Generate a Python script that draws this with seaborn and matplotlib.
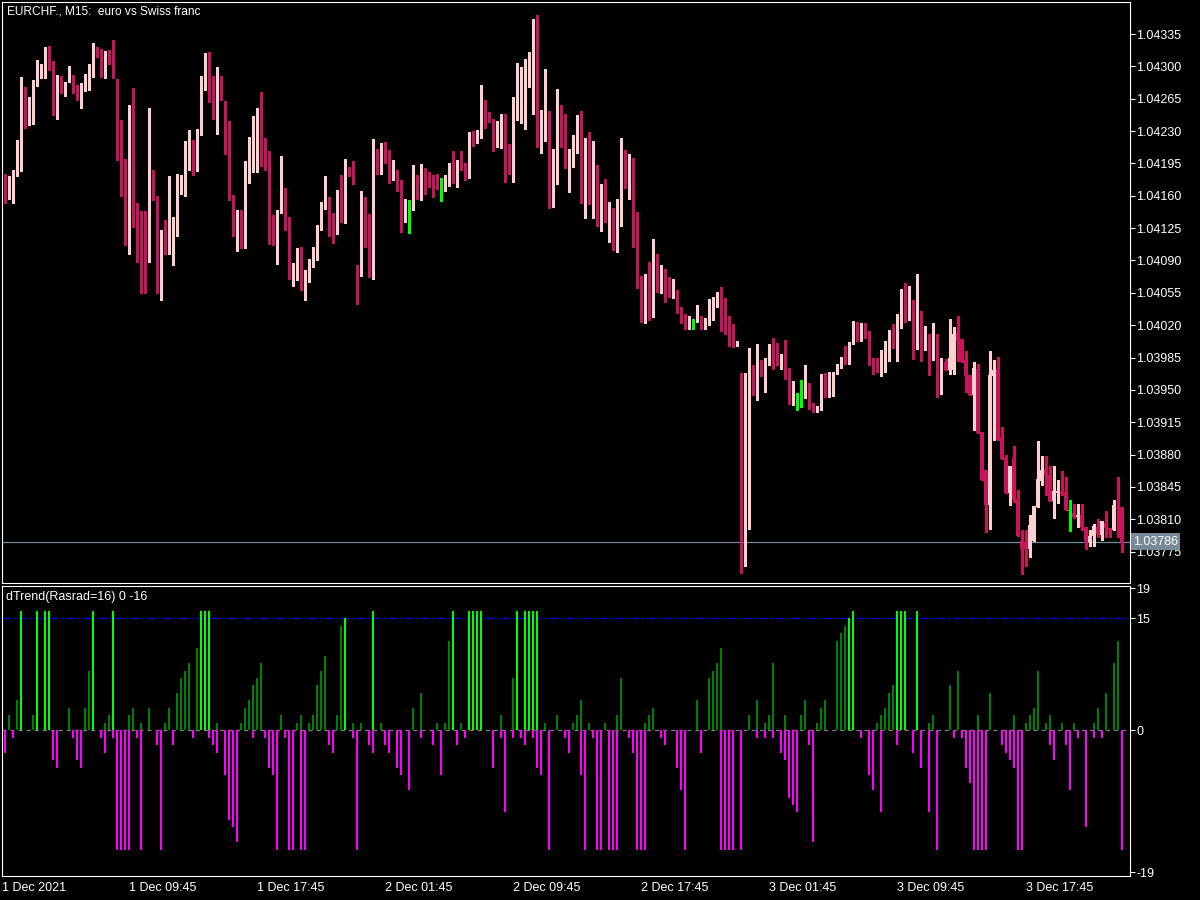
import numpy as np
import pandas as pd
import seaborn as sns
import matplotlib
matplotlib.use("Agg")
import matplotlib.pyplot as plt
import matplotlib.transforms as mtransforms

# ------------------- DATA -------------------

# EURCHF M15 candles, prices in points (1.04181 -> 104181), bar 0 = 1 Dec 2021 02:00
open_pts = [
    104181, 104165, 104171, 104187, 104211, 104276, 104243, 104258, 104283, 104295,
    104295, 104319, 104300, 104256, 104288, 104274, 104286, 104288, 104275, 104273,
    104277, 104287, 104301, 104317, 104314, 104296, 104312, 104306, 104286, 104224,
    104165, 104127, 104236, 104138, 104101, 104094, 104090, 104175, 104157, 104064,
    104120, 104105, 104109, 104134, 104175, 104174, 104200, 104213, 104191, 104227,
    104285, 104314, 104282, 104245, 104284, 104263, 104210, 104159, 104121, 104126,
    104119, 104182, 104196, 104217, 104234, 104214, 104202, 104133, 104117, 104144,
    104159, 104133, 104079, 104087, 104099, 104061, 104069, 104089, 104097, 104125,
    104151, 104157, 104130, 104127, 104140, 104132, 104189, 104187, 104082, 104073,
    104130, 104107, 104070, 104206, 104192, 104209, 104202, 104182, 104185, 104170,
    104132, 104148, 104148, 104183, 104171, 104179, 104179, 104176, 104176, 104169,
    104169, 104177, 104190, 104174, 104196, 104193, 104181, 104220, 104218, 104226,
    104256, 104247, 104243, 104213, 104233, 104246, 104191, 104184, 104254, 104260,
    104265, 104301, 104305, 104350, 104219, 104228, 104233, 104182, 104206, 104245,
    104216, 104195, 104210, 104211, 104228, 104157, 104222, 104170, 104191, 104127,
    104144, 104138, 104141, 104118, 104131, 104207, 104182, 104190, 104113, 104061,
    104040, 104061, 104030, 104084, 104059, 104077, 104056, 104053, 104056, 104037,
    104032, 104016, 104025, 104025, 104030, 104018, 104022, 104026, 104044, 104052,
    104030, 104030, 104004, 103997, 103802, 103761, 103939, 103966, 103939, 103980,
    103969, 103984, 103986, 103987, 103980, 103982, 103971, 103935, 103943, 103943,
    103942, 103958, 103934, 103926, 103929, 103966, 103942, 103953, 103968, 103975,
    103985, 103978, 104000, 104024, 104007, 104009, 104010, 103979, 103978, 103975,
    103983, 103989, 104011, 103995, 104017, 104049, 104027, 104044, 103996, 104035,
    104003, 104011, 103994, 104011, 103956, 103980, 103972, 103972, 104012, 104005,
    103982, 103966, 103945, 103973, 103904, 103863, 103825, 103965, 103973, 103899,
    103876, 103838, 103876, 103832, 103787, 103785, 103778, 103787, 103823, 103852,
    103864, 103858, 103830, 103839, 103840, 103840, 103819, 103817, 103813, 103815,
    103802, 103786, 103792, 103802, 103793, 103806, 103801, 103798, 103824, 103823,
]
high_pts = [
    104184, 104181, 104188, 104220, 104288, 104278, 104267, 104285, 104307, 104303,
    104321, 104322, 104306, 104291, 104290, 104283, 104300, 104291, 104280, 104282,
    104292, 104303, 104325, 104321, 104319, 104317, 104318, 104329, 104286, 104242,
    104200, 104258, 104277, 104152, 104144, 104144, 104255, 104188, 104160, 104123,
    104134, 104181, 104137, 104184, 104183, 104219, 104231, 104220, 104232, 104290,
    104314, 104315, 104290, 104299, 104290, 104263, 104241, 104161, 104145, 104145,
    104198, 104224, 104246, 104255, 104272, 104222, 104208, 104139, 104145, 104203,
    104168, 104137, 104087, 104104, 104105, 104080, 104092, 104105, 104128, 104153,
    104181, 104159, 104141, 104166, 104182, 104200, 104191, 104198, 104085, 104165,
    104159, 104140, 104221, 104211, 104217, 104218, 104209, 104199, 104188, 104177,
    104156, 104155, 104193, 104183, 104194, 104190, 104186, 104183, 104184, 104179,
    104182, 104196, 104208, 104199, 104208, 104196, 104229, 104230, 104231, 104280,
    104264, 104251, 104243, 104241, 104249, 104249, 104216, 104267, 104304, 104299,
    104308, 104316, 104351, 104356, 104253, 104297, 104252, 104211, 104275, 104258,
    104249, 104211, 104226, 104247, 104252, 104223, 104229, 104219, 104193, 104173,
    104178, 104153, 104147, 104156, 104222, 104209, 104205, 104201, 104142, 104073,
    104075, 104088, 104113, 104097, 104085, 104081, 104072, 104070, 104058, 104040,
    104032, 104030, 104027, 104042, 104030, 104028, 104048, 104051, 104056, 104061,
    104049, 104030, 104021, 104003, 103968, 103968, 103995, 103977, 104000, 103982,
    103984, 104000, 104006, 104001, 103989, 104004, 103974, 103960, 103947, 103961,
    103977, 103958, 103936, 103933, 103967, 103968, 103969, 103969, 103978, 103986,
    103998, 104002, 104025, 104024, 104022, 104022, 104014, 103985, 103985, 103993,
    104003, 104015, 104021, 104032, 104059, 104066, 104062, 104047, 104075, 104035,
    104019, 104011, 104022, 104011, 103984, 103983, 104027, 104018, 104030, 104005,
    103992, 103966, 103980, 103978, 103904, 103863, 103992, 103982, 103986, 103910,
    103880, 103868, 103889, 103842, 103798, 103798, 103815, 103824, 103895, 103878,
    103878, 103868, 103868, 103853, 103862, 103856, 103831, 103827, 103827, 103827,
    103802, 103798, 103805, 103810, 103808, 103819, 103801, 103831, 103856, 103823,
]
low_pts = [
    104152, 104157, 104152, 104181, 104187, 104233, 104237, 104238, 104279, 104287,
    104287, 104296, 104247, 104243, 104271, 104268, 104283, 104271, 104264, 104255,
    104273, 104274, 104289, 104310, 104289, 104287, 104303, 104287, 104199, 104160,
    104107, 104097, 104126, 104088, 104055, 104055, 104088, 104155, 104055, 104047,
    104097, 104097, 104085, 104116, 104162, 104160, 104188, 104183, 104187, 104226,
    104274, 104261, 104243, 104227, 104264, 104205, 104155, 104117, 104100, 104103,
    104104, 104174, 104186, 104186, 104192, 104188, 104108, 104107, 104086, 104141,
    104123, 104070, 104062, 104069, 104058, 104047, 104067, 104083, 104090, 104123,
    104146, 104116, 104109, 104119, 104132, 104131, 104181, 104173, 104043, 104073,
    104105, 104072, 104070, 104184, 104184, 104195, 104174, 104177, 104165, 104121,
    104132, 104120, 104145, 104156, 104155, 104162, 104169, 104159, 104167, 104154,
    104165, 104171, 104174, 104170, 104188, 104177, 104179, 104214, 104217, 104223,
    104233, 104240, 104208, 104213, 104212, 104175, 104184, 104175, 104242, 104239,
    104232, 104278, 104249, 104213, 104206, 104219, 104147, 104148, 104173, 104213,
    104190, 104164, 104191, 104206, 104152, 104136, 104151, 104136, 104127, 104122,
    104132, 104110, 104101, 104099, 104127, 104168, 104156, 104105, 104060, 104024,
    104022, 104026, 104029, 104056, 104055, 104045, 104051, 104049, 104033, 104022,
    104016, 104016, 104016, 104024, 104016, 104016, 104020, 104026, 104040, 104014,
    104010, 103998, 103996, 103997, 103752, 103759, 103799, 103945, 103939, 103965,
    103948, 103977, 103973, 103977, 103973, 103962, 103935, 103934, 103928, 103931,
    103941, 103929, 103926, 103926, 103928, 103942, 103942, 103943, 103967, 103974,
    103978, 103978, 104000, 104003, 104003, 104006, 103977, 103967, 103969, 103965,
    103969, 103981, 103995, 103981, 104017, 104024, 104026, 103983, 103994, 103981,
    103993, 103966, 103982, 103942, 103946, 103971, 103967, 103967, 103981, 103980,
    103948, 103944, 103907, 103903, 103853, 103796, 103800, 103896, 103896, 103875,
    103838, 103825, 103829, 103792, 103751, 103760, 103769, 103787, 103823, 103847,
    103836, 103830, 103811, 103828, 103836, 103820, 103797, 103811, 103802, 103798,
    103778, 103781, 103781, 103791, 103788, 103791, 103791, 103798, 103791, 103775,
]
close_pts = [
    104165, 104171, 104182, 104213, 104277, 104246, 104259, 104283, 104300, 104298,
    104321, 104297, 104257, 104287, 104274, 104281, 104288, 104274, 104273, 104277,
    104291, 104301, 104317, 104314, 104295, 104312, 104304, 104287, 104222, 104164,
    104128, 104234, 104138, 104100, 104094, 104092, 104171, 104157, 104064, 104120,
    104104, 104109, 104134, 104174, 104177, 104199, 104215, 104191, 104227, 104286,
    104314, 104271, 104247, 104282, 104264, 104209, 104157, 104121, 104126, 104122,
    104182, 104197, 104216, 104232, 104214, 104202, 104132, 104117, 104144, 104159,
    104131, 104079, 104081, 104100, 104061, 104069, 104089, 104097, 104127, 104149,
    104157, 104126, 104116, 104141, 104135, 104190, 104186, 104173, 104071, 104099,
    104112, 104101, 104204, 104192, 104208, 104201, 104181, 104188, 104170, 104132,
    104150, 104148, 104182, 104170, 104178, 104177, 104170, 104174, 104167, 104169,
    104179, 104190, 104174, 104196, 104192, 104181, 104220, 104218, 104226, 104258,
    104247, 104241, 104213, 104238, 104246, 104190, 104184, 104255, 104265, 104267,
    104304, 104305, 104350, 104219, 104227, 104233, 104184, 104209, 104244, 104213,
    104195, 104210, 104212, 104232, 104161, 104222, 104169, 104190, 104129, 104144,
    104139, 104140, 104120, 104132, 104207, 104182, 104189, 104111, 104060, 104042,
    104061, 104030, 104084, 104058, 104078, 104056, 104052, 104056, 104038, 104030,
    104016, 104025, 104025, 104032, 104018, 104022, 104027, 104045, 104052, 104030,
    104026, 104003, 103997, 103999, 103764, 103904, 103978, 103947, 103981, 103969,
    103982, 103986, 103984, 103981, 103983, 103970, 103936, 103944, 103943, 103943,
    103958, 103934, 103926, 103929, 103965, 103942, 103956, 103969, 103977, 103984,
    103978, 104000, 104024, 104007, 104010, 104007, 103979, 103974, 103976, 103985,
    103991, 104011, 103995, 104028, 104051, 104025, 104045, 103996, 104035, 103995,
    104011, 103998, 104012, 103957, 103978, 103971, 103985, 104011, 104003, 103980,
    103965, 103945, 103974, 103903, 103853, 103825, 103966, 103972, 103896, 103875,
    103838, 103868, 103831, 103792, 103778, 103778, 103804, 103824, 103854, 103863,
    103858, 103830, 103841, 103841, 103837, 103820, 103819, 103812, 103815, 103802,
    103787, 103792, 103803, 103794, 103808, 103801, 103798, 103825, 103823, 103786,
]

# dTrend(Rasrad=16): up buffer and down buffer per bar
trend_up = [
    0, 2, 0, 4, 16, 0, 0, 2, 16, 0,
    16, 16, 0, 0, 0, 0, 3, 0, 0, 0,
    3, 8, 16, 0, 0, 1, 2, 16, 0, 0,
    0, 2, 3, 0, 1, 0, 3, 0, 0, 0,
    1, 3, 0, 5, 7, 8, 9, 0, 11, 16,
    16, 16, 0, 1, 0, 0, 0, 0, 0, 1,
    3, 4, 6, 7, 9, 0, 0, 0, 0, 2,
    0, 0, 0, 1, 2, 0, 1, 2, 6, 8,
    10, 0, 0, 2, 14, 15, 0, 1, 0, 1,
    0, 0, 16, 0, 1, 0, 0, 0, 0, 0,
    0, 0, 3, 0, 5, 0, 0, 0, 1, 0,
    1, 12, 16, 0, 1, 0, 16, 16, 16, 16,
    0, 0, 0, 0, 2, 0, 0, 7, 16, 0,
    16, 16, 16, 16, 0, 1, 0, 0, 2, 0,
    0, 0, 1, 2, 4, 0, 1, 0, 0, 0,
    1, 0, 0, 2, 7, 0, 0, 0, 0, 0,
    1, 2, 3, 0, 0, 0, 0, 0, 0, 0,
    0, 0, 0, 4, 0, 0, 7, 8, 9, 11,
    0, 0, 0, 0, 0, 0, 2, 0, 4, 0,
    1, 2, 9, 0, 0, 2, 0, 0, 0, 2,
    4, 0, 0, 1, 3, 4, 0, 0, 12, 13,
    14, 15, 16, 0, 0, 0, 0, 0, 1, 2,
    3, 5, 6, 16, 16, 16, 0, 0, 16, 0,
    0, 1, 2, 0, 0, 0, 6, 0, 8, 0,
    0, 0, 0, 2, 0, 0, 5, 0, 0, 0,
    0, 0, 2, 0, 0, 1, 2, 3, 8, 0,
    1, 2, 0, 0, 1, 0, 0, 1, 0, 0,
    0, 0, 1, 3, 0, 5, 0, 9, 12, 0,
]
trend_down = [
    -3, 0, -1, 0, 0, 0, 0, 0, 0, 0,
    0, 0, -4, -5, 0, 0, 0, -1, -4, -5,
    0, 0, 0, 0, -1, -3, 0, -1, -16, -16,
    -16, -16, 0, -1, -16, 0, 0, 0, -2, -16,
    0, 0, -2, 0, 0, 0, 0, -1, 0, 0,
    0, -1, -2, -3, 0, -6, -12, -13, -15, 0,
    0, 0, -1, 0, 0, -1, -5, -6, -16, 0,
    -1, -16, -16, 0, -16, -16, 0, 0, 0, 0,
    0, -2, -3, 0, 0, 0, 0, -1, -16, 0,
    0, -2, -3, 0, 0, -2, -3, 0, -5, -6,
    0, -8, 0, 0, -1, 0, 0, -2, 0, -6,
    0, 0, 0, -2, 0, -1, 0, 0, 0, 0,
    0, 0, -5, 0, -1, -11, 0, -1, 0, -1,
    -2, 0, -1, -5, -6, 0, -16, 0, 0, 0,
    -1, -3, 0, 0, -6, -16, 0, -1, -16, -16,
    0, -16, -16, -16, 0, 0, -1, -3, -16, -16,
    -16, 0, 0, 0, -1, -2, 0, 0, -5, -8,
    -16, 0, 0, 0, -3, 0, 0, 0, 0, -16,
    -16, -16, -16, 0, -16, 0, 0, 0, -1, 0,
    -1, 0, -1, 0, -3, -4, -9, -10, -11, 0,
    0, -2, -15, 0, 0, 0, 0, 0, 0, 0,
    0, 0, 0, 0, -1, 0, -6, -8, 0, -11,
    0, 0, 0, -2, 0, 0, 0, -3, 0, -5,
    0, -11, 0, -16, 0, 0, 0, -1, 0, -1,
    -5, -7, -16, -16, -16, -16, 0, 0, 0, -2,
    -3, -4, -5, -16, -16, 0, 0, 0, 0, 0,
    0, -2, -4, 0, 0, -2, -8, 0, -1, 0,
    -13, 0, -1, 0, -1, 0, 0, 0, 0, -16,
]

price_ticks = [1.04335, 1.04300, 1.04265, 1.04230, 1.04195, 1.04160, 1.04125,
               1.04090, 1.04055, 1.04020, 1.03985, 1.03950, 1.03915, 1.03880,
               1.03845, 1.03810, 1.03775]
level_ticks = [19, 15, 0, -19]
time_ticks = [0, 31, 63, 95, 127, 159, 191, 223, 255]
time_labels = ["1 Dec 2021", "1 Dec 09:45", "1 Dec 17:45", "2 Dec 01:45", "2 Dec 09:45",
               "2 Dec 17:45", "3 Dec 01:45", "3 Dec 09:45", "3 Dec 17:45"]
last_price = 1.03786

# ------------------- STYLE -------------------

sns.set_theme(style="dark", rc={
    "axes.facecolor": "black",
    "figure.facecolor": "black",
    "axes.edgecolor": "white",
    "text.color": "white",
    "xtick.color": "white",
    "ytick.color": "white",
    "axes.grid": False,
})
plt.rcParams["font.family"] = ["Liberation Sans", "DejaVu Sans"]
plt.rcParams["lines.scale_dashes"] = False

bull_col = "#FFD0D0"
bear_col = "#C8145A"
doji_col = "#00FF00"

o = np.array(open_pts) / 1e5
h = np.array(high_pts) / 1e5
l = np.array(low_pts) / 1e5
c = np.array(close_pts) / 1e5
bars = np.arange(len(o))
x_lo, x_hi = -0.675, 281.1

fig = plt.figure(figsize=(12, 9), dpi=100)
ax = fig.add_axes([2.3 / 1200, 1 - 583.3 / 900, (1130 - 2.3) / 1200, (583.3 - 2.3) / 900])
ax2 = fig.add_axes([2.3 / 1200, 1 - 875.7 / 900, (1130 - 2.3) / 1200, (875.7 - 585.7) / 900])

# ------------------- CANDLES -------------------

cols = np.where(c > o, bull_col, np.where(c < o, bear_col, doji_col))
ax.vlines(bars, l, h, colors=cols, linewidth=0.75, antialiased=False, zorder=2)
body_lo = np.minimum(o, c)
body_h = np.maximum(np.abs(c - o), 1.1e-5)
ax.bar(bars, body_h, bottom=body_lo, width=0.68, color=cols, linewidth=0,
       antialiased=False, zorder=3)

ax.axhline(last_price, color="#778899", linewidth=0.9, zorder=1)
ax.set_xlim(x_lo, x_hi)
ax.set_ylim(1.037408, 1.043693)
ax.set_xticks([])
ax.yaxis.tick_right()
ax.set_yticks(price_ticks)
ax.set_yticklabels([f"{p:.5f}" for p in price_ticks])
ax.tick_params(axis="y", direction="out", length=3.5, width=0.8, pad=1,
               labelsize=9, colors="white")
ax.text(1.0025, last_price, f"{last_price:.5f}", color="white", fontsize=9,
        va="center", ha="left", clip_on=False, zorder=10,
        transform=mtransforms.blended_transform_factory(ax.transAxes, ax.transData),
        bbox=dict(boxstyle="square,pad=0.18", fc="#778899", ec="none"))
fig.text(7 / 1200, 1 - 11.5 / 900, "EURCHF., M15:  euro vs Swiss franc",
         color="white", fontsize=8.6, va="center", ha="left")

# ------------------- INDICATOR -------------------

up = np.array(trend_up)
dn = np.array(trend_down)
hist = pd.concat([
    pd.DataFrame({"bar": bars, "value": up, "kind": np.where(up >= 15, "peak", "up")}),
    pd.DataFrame({"bar": bars, "value": dn, "kind": "down"}),
])
hist = hist[hist["value"] != 0]
sns.barplot(data=hist, x="bar", y="value", hue="kind", native_scale=True, dodge=False,
            palette={"peak": "#00FF00", "up": "#008000", "down": "#FF00FF"},
            width=0.5, errorbar=None, legend=False, linewidth=0, saturation=1, ax=ax2)
for p in ax2.patches:
    p.set_antialiased(False)

ax2.axhline(15, color="#0000FF", linewidth=0.9, linestyle=(0, (5.8, 2.2, 1.4, 2.2)), zorder=0.5)
ax2.axhline(0, color="#808080", linewidth=0.9, linestyle=(0, (2.9, 2.9)), zorder=0.5)
ax2.set_xlim(x_lo, x_hi)
ax2.set_ylim(-19.47, 19.36)
ax2.set_xlabel("")
ax2.set_ylabel("")
ax2.yaxis.tick_right()
ax2.set_yticks(level_ticks)
ax2.set_yticklabels([str(v) for v in level_ticks])
ax2.set_xticks([x_lo] + time_ticks[1:])
ax2.set_xticklabels(time_labels)
for t in ax2.get_xticklabels():
    t.set_horizontalalignment("left")
ax2.tick_params(axis="both", direction="out", length=3.5, width=0.8, pad=1,
                labelsize=9, colors="white")
ax2.text(3.4 / 1127.7, 1 - 11 / 290, "dTrend(Rasrad=16) 0 -16", color="white",
         fontsize=9, va="center", ha="left", transform=ax2.transAxes)

for a in (ax, ax2):
    for s in a.spines.values():
        s.set_color("white")
        s.set_linewidth(0.8)
        s.set_visible(True)

fig.savefig("out.png", dpi=100, facecolor="black")
